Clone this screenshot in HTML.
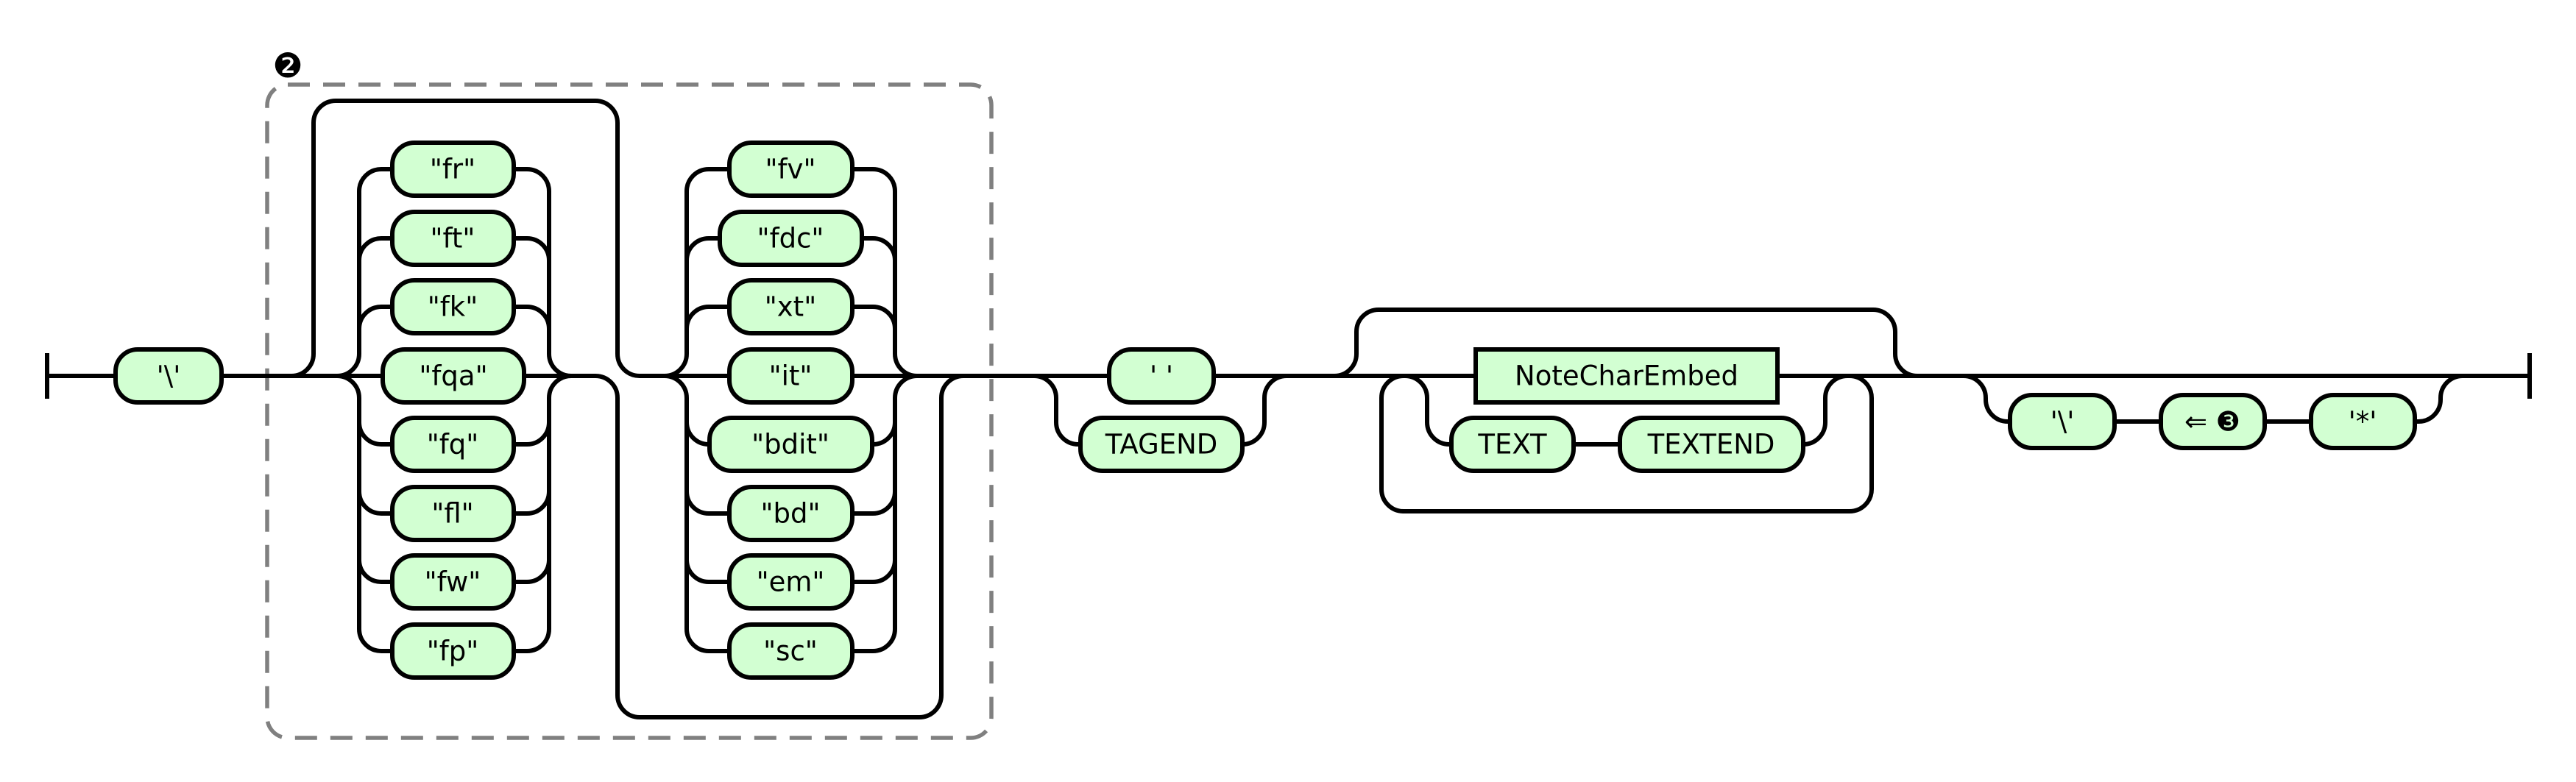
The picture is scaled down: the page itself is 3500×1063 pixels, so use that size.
<!DOCTYPE html>
<html><head><meta charset="utf-8"><style>
html,body{margin:0;padding:0;background:#fff;}
svg{display:block}
text{font-family:"DejaVu Sans","Liberation Sans",sans-serif;font-size:37px;fill:#000;text-anchor:middle;dominant-baseline:central}
.n{fill:#d2ffd2;stroke:#000;stroke-width:6}
.l{fill:none;stroke:#000;stroke-width:6}
</style></head><body>
<svg width="3500" height="1063" viewBox="0 0 3500 1063" xmlns="http://www.w3.org/2000/svg">
<rect x="363" y="115" width="984" height="888" rx="28" fill="none" stroke="#808080" stroke-width="5.5" stroke-dasharray="30 18"/>
<text x="391" y="89" style="font-size:46px">❷</text>

<g class="l">
<path d="M64 480V542"/>
<path d="M64 511H157"/>
<path d="M301 511H520"/>
<path d="M396 511a30 30 0 0 0 30 -30V167a30 30 0 0 1 30 -30H809a30 30 0 0 1 30 30V481a30 30 0 0 0 30 30"/>
<path d="M458 511a30 30 0 0 0 30 -30V260a30 30 0 0 1 30 -30H533"/>
<path d="M488 354a30 30 0 0 1 30 -30H533"/>
<path d="M488 447a30 30 0 0 1 30 -30H533"/>
<path d="M458 511a30 30 0 0 1 30 30V855a30 30 0 0 0 30 30H533"/>
<path d="M488 574a30 30 0 0 0 30 30H533"/>
<path d="M488 668a30 30 0 0 0 30 30H533"/>
<path d="M488 761a30 30 0 0 0 30 30H533"/>
<path d="M698 230H716a30 30 0 0 1 30 30V481a30 30 0 0 0 30 30"/>
<path d="M698 324H716a30 30 0 0 1 30 30"/>
<path d="M698 417H716a30 30 0 0 1 30 30"/>
<path d="M698 885H716a30 30 0 0 0 30 -30V541a30 30 0 0 1 30 -30"/>
<path d="M698 604H716a30 30 0 0 0 30 -30"/>
<path d="M698 698H716a30 30 0 0 0 30 -30"/>
<path d="M698 791H716a30 30 0 0 0 30 -30"/>
<path d="M712 511H809a30 30 0 0 1 30 30V945a30 30 0 0 0 30 30H1249a30 30 0 0 0 30 -30V541a30 30 0 0 1 30 -30"/>
<path d="M869 511H991"/>
<path d="M903 511a30 30 0 0 0 30 -30V260a30 30 0 0 1 30 -30H991"/>
<path d="M933 354a30 30 0 0 1 30 -30H978"/>
<path d="M933 447a30 30 0 0 1 30 -30H991"/>
<path d="M903 511a30 30 0 0 1 30 30V855a30 30 0 0 0 30 30H991"/>
<path d="M933 574a30 30 0 0 0 30 30H964"/>
<path d="M933 668a30 30 0 0 0 30 30H991"/>
<path d="M933 761a30 30 0 0 0 30 30H991"/>
<path d="M1158 230H1186a30 30 0 0 1 30 30V481a30 30 0 0 0 30 30"/>
<path d="M1171 324H1186a30 30 0 0 1 30 30"/>
<path d="M1158 417H1186a30 30 0 0 1 30 30"/>
<path d="M1158 885H1186a30 30 0 0 0 30 -30V541a30 30 0 0 1 30 -30"/>
<path d="M1185 604H1186a30 30 0 0 0 30 -30"/>
<path d="M1158 698H1186a30 30 0 0 0 30 -30"/>
<path d="M1158 791H1186a30 30 0 0 0 30 -30"/>
<path d="M1158 511H1507"/>
<path d="M1405 511a30 30 0 0 1 30 30V574a30 30 0 0 0 30 30H1468"/>
<path d="M1688 604a30 30 0 0 0 30 -30V541a30 30 0 0 1 30 -30"/>
<path d="M1649 511H2005"/>
<path d="M1813 511a30 30 0 0 0 30 -30V451a30 30 0 0 1 30 -30H2545a30 30 0 0 1 30 30V481a30 30 0 0 0 30 30"/>
<path d="M1907 511a30 30 0 0 0 -30 30V665a30 30 0 0 0 30 30H2513a30 30 0 0 0 30 -30V541a30 30 0 0 0 -30 -30"/>
<path d="M1909 511a30 30 0 0 1 30 30V574a30 30 0 0 0 30 30H1972"/>
<path d="M2138 604H2201"/>
<path d="M2450 604a30 30 0 0 0 30 -30V541a30 30 0 0 1 30 -30"/>
<path d="M2415 511H3437"/>
<path d="M2668 511a30 30 0 0 1 30 30V543a30 30 0 0 0 30 30H2731"/>
<path d="M2873 573H2936M3077 573H3140"/>
<path d="M3281 573H3286a30 30 0 0 0 30 -30V541a30 30 0 0 1 30 -30"/>
<path d="M3437 480V542"/>
</g>

<rect class="n" x="157" y="475" width="144" height="72" rx="30"/><text x="229" y="511">'\'</text>

<rect class="n" x="533" y="194" width="165" height="72" rx="30"/><text x="615" y="230">"fr"</text>
<rect class="n" x="533" y="288" width="165" height="72" rx="30"/><text x="615" y="324">"ft"</text>
<rect class="n" x="533" y="381" width="165" height="72" rx="30"/><text x="615" y="417">"fk"</text>
<rect class="n" x="520" y="475" width="192" height="72" rx="30"/><text x="616" y="511">"fqa"</text>
<rect class="n" x="533" y="568" width="165" height="72" rx="30"/><text x="615" y="604">"fq"</text>
<rect class="n" x="533" y="662" width="165" height="72" rx="30"/><text x="615" y="698">"fl"</text>
<rect class="n" x="533" y="755" width="165" height="72" rx="30"/><text x="615" y="791">"fw"</text>
<rect class="n" x="533" y="849" width="165" height="72" rx="30"/><text x="615" y="885">"fp"</text>

<rect class="n" x="991" y="194" width="167" height="72" rx="30"/><text x="1074" y="230">"fv"</text>
<rect class="n" x="978" y="288" width="193" height="72" rx="30"/><text x="1074" y="324">"fdc"</text>
<rect class="n" x="991" y="381" width="167" height="72" rx="30"/><text x="1074" y="417">"xt"</text>
<rect class="n" x="991" y="475" width="167" height="72" rx="30"/><text x="1074" y="511">"it"</text>
<rect class="n" x="964" y="568" width="221" height="72" rx="30"/><text x="1074" y="604">"bdit"</text>
<rect class="n" x="991" y="662" width="167" height="72" rx="30"/><text x="1074" y="698">"bd"</text>
<rect class="n" x="991" y="755" width="167" height="72" rx="30"/><text x="1074" y="791">"em"</text>
<rect class="n" x="991" y="849" width="167" height="72" rx="30"/><text x="1074" y="885">"sc"</text>

<rect class="n" x="1507" y="475" width="142" height="72" rx="30"/><text x="1578" y="511">' '</text>
<rect class="n" x="1468" y="568" width="220" height="72" rx="30"/><text x="1578" y="604">TAGEND</text>

<rect class="n" x="2005" y="475" width="410" height="72" rx="0"/><text x="2210" y="511">NoteCharEmbed</text>
<rect class="n" x="1972" y="568" width="166" height="72" rx="30"/><text x="2055" y="604">TEXT</text>
<rect class="n" x="2201" y="568" width="249" height="72" rx="30"/><text x="2325" y="604">TEXTEND</text>

<rect class="n" x="2731" y="537" width="142" height="72" rx="30"/><text x="2802" y="573">'\'</text>
<rect class="n" x="2936" y="537" width="141" height="72" rx="30"/><text x="3006" y="573">⇐ ❸</text>
<rect class="n" x="3140" y="537" width="141" height="72" rx="30"/><text x="3210" y="573">'*'</text>
</svg>
</body></html>
